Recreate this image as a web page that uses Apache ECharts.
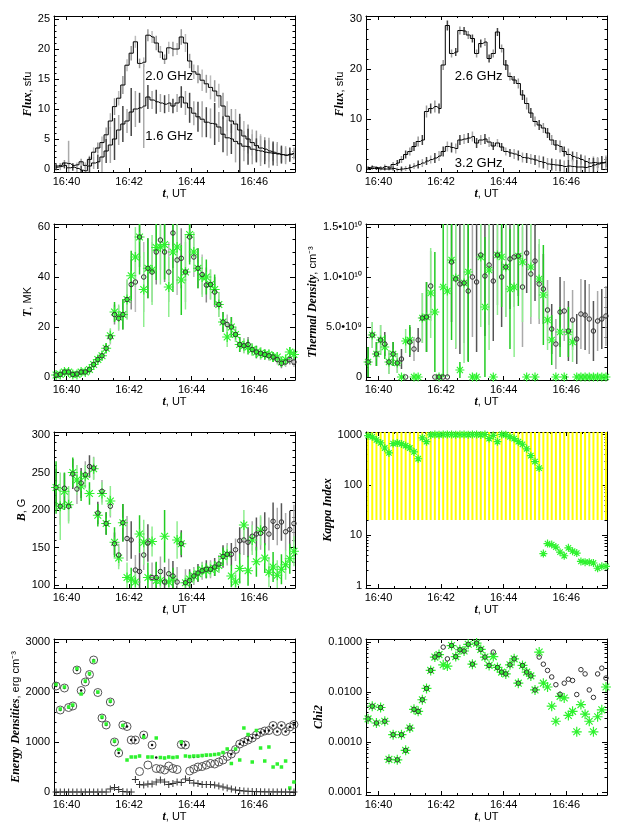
<!DOCTYPE html>
<html><head><meta charset="utf-8">
<script src="https://cdn.jsdelivr.net/npm/echarts@6/dist/echarts.min.js"></script>
<style>html,body{margin:0;padding:0;background:#fff}#c{width:623px;height:830px}</style>
</head><body><div id="c"></div>
<script>
// ---------------- sampling clock (minutes after 16:00) ----------------
const T_START = 39 + 40 / 60;   // 16:39:40
const T_STEP = 8 / 60;          // 8 s cadence
const N = 58;
const times = [];
for (let i = 0; i < N; i++) times.push(T_START + i * T_STEP);

const xTickMinutes = [40, 42, 44, 46];
const xMinorMinutes = [40.5, 41, 41.5, 42.5, 43, 43.5, 44.5, 45, 45.5, 46.5, 47];

// ---------------- panel 1: flux 2.0 / 1.6 GHz (sfu) ----------------
const flux20 = [0.5,0.6,1.0,0.9,0.6,0.7,1.2,0.6,1.6,2.8, 3.5,4.4,5.7,8.0,10.4,11.8,14.0,17.3,19.3,21.2, 17.6,17.8,22.3,22.0,21.0,19.5,18.3,20.2,20.0,20.0, 22.0,21.0,18.0,16.2,15.8,14.8,14.2,13.6,13.0,12.2, 10.5,8.8,8.0,7.5,6.5,5.5,5.0,4.4,3.9,3.5, 3.3,3.0,2.8,2.6,2.4,2.3,2.5,2.6];
const err20  = [0.4,0.4,0.5,0.4,0.4,0.4,0.5,0.5,0.6,0.8, 0.9,1.0,1.2,1.3,1.4,1.2,1.5,1.0,1.2,1.0, 0.8,0.8,1.0,1.0,1.2,1.0,0.8,1.0,1.2,1.0, 1.3,1.5,1.2,1.2,1.5,1.8,1.5,2.0,1.8,2.0, 2.2,2.5,2.0,2.5,2.2,2.5,2.4,2.2,2.5,2.3, 2.0,1.8,1.5,1.6,1.3,1.2,1.0,0.8];
const flux16 = [0.3,0.4,0.6,0.2,0.3,0.1,-0.2,-0.3,0.5,1.0, 1.2,2.0,3.0,4.0,5.0,6.5,7.5,8.0,9.5,10.0, 10.2,10.5,12.0,11.5,11.2,11.0,10.8,11.0,10.5,11.0, 12.0,11.0,10.2,9.3,8.7,8.3,7.8,7.6,7.5,7.0, 5.8,5.2,5.0,4.6,4.2,3.8,3.7,3.3,3.1,3.0, 2.8,2.7,2.6,2.5,2.4,2.3,2.4,2.6];
const err16  = [0.5,0.6,0.5,4.5,0.6,0.6,0.8,0.8,1.5,1.0, 1.2,2.5,2.0,3.0,3.5,2.5,3.0,2.0,4.0,3.0, 2.5,7.0,2.0,1.5,2.0,1.5,1.5,1.5,1.2,1.5, 1.8,2.0,2.5,2.0,2.5,3.0,2.5,2.5,3.5,2.5, 3.0,3.0,2.5,3.5,5.0,2.5,3.0,2.5,2.0,2.5, 2.0,2.5,2.0,2.0,1.5,1.5,1.2,1.0];

// ---------------- panel 2: flux 2.6 / 3.2 GHz (sfu) ----------------
const flux26 = [0.3,0.4,0.3,0.2,0.5,0.2,0.9,1.2,1.9,2.9, 3.5,4.5,5.5,5.8,11.5,12.1,12.5,12.1,20.8,28.7, 23.1,23.4,27.7,27.6,26.8,26.1,23.1,25.1,25.4,22.1, 23.1,27.4,24.1,20.8,18.5,17.8,17.1,14.8,13.1,11.2, 9.5,8.8,8.2,7.2,5.8,4.8,4.5,3.5,2.9,2.5, 2.2,1.9,1.5,1.2,1.3,1.2,1.3,1.4];
const err26  = [0.3,0.3,0.3,0.3,0.4,0.4,0.5,0.6,0.7,0.8, 0.8,0.9,1.0,1.0,1.2,1.0,1.2,1.0,1.0,1.0, 0.8,0.8,0.8,0.8,0.8,0.8,0.8,0.8,0.8,0.8, 0.8,0.8,0.8,1.0,0.8,0.8,1.0,1.0,1.2,1.0, 1.0,1.0,1.0,1.0,1.0,1.0,1.2,1.0,1.2,1.0, 1.2,1.0,1.2,1.0,1.2,1.0,1.2,1.0];
const flux32 = [0.1,0.1,0.1,0.0,0.0,0.0,0.1,-0.1,0.0,0.1, 0.3,0.6,0.9,1.2,1.6,1.9,2.2,2.6,3.5,4.5, 4.3,4.1,5.8,6.0,6.2,6.5,5.2,5.8,6.0,5.4, 4.6,5.2,4.4,3.5,3.2,3.0,2.7,2.3,2.2,2.0, 1.8,1.5,1.3,1.0,0.9,0.8,0.7,0.5,0.6,0.5, 0.4,0.4,0.3,0.5,0.8,1.0,1.2,1.3];
const err32  = [0.3,0.3,0.3,0.3,0.3,0.3,0.4,0.4,0.5,0.5, 0.6,0.6,0.8,0.8,0.8,0.8,1.0,1.0,1.0,1.0, 1.0,1.0,1.0,1.0,1.0,1.0,1.0,1.0,1.0,1.0, 0.8,0.8,0.8,0.8,0.8,1.0,1.0,1.0,1.0,1.0, 1.0,1.2,1.2,1.2,1.2,1.2,1.2,1.2,1.2,1.4, 1.4,1.4,1.4,1.4,1.4,1.4,1.4,1.4];

// ---------------- panel 3: temperature (MK) ----------------
const tempAst  = [0.8,1.0,2.0,2.0,1.0,1.0,2.0,2.0,3.0,5.0, 7.0,8.5,11.5,16.5,26.0,24.0,25.0,31.0,40.5,48.0, 56.0,35.0,43.5,42.8,51.8,52.0,53.0,36.0,50.0,52.0, 38.8,42.0,57.0,50.0,43.5,40.0,40.0,37.0,35.0,29.0, 22.0,16.0,20.0,17.0,13.0,12.5,12.0,11.0,10.0,9.5, 9.0,9.0,8.0,8.0,6.0,7.0,10.0,9.0];
const tempAstErr = [0.8,0.8,1,1,0.8,0.8,1,1,1.2,1.5, 1.5,2,2,3,4,5,6,8,10,12, 15,15,12,14,13,15,14,12,16,15, 14,15,12,8,8,8,7,6,6,5, 4,4,4,3,3,3,3,2.5,2.5,2.5, 2,2,2,2,2,2,2,2];
const tempCirc = [0.8,1.0,2.0,2.0,1.0,1.2,2.0,2.0,3.0,5.0, 7.0,8.5,11.5,16.0,25.0,23.5,25.0,31.0,37.0,38.0, 56.0,40.0,43.5,42.0,50.0,54.8,50.0,42.0,57.6,46.8, 47.5,42.0,56.0,48.0,43.5,41.0,36.8,37.0,34.0,29.0, 22.0,21.0,20.0,17.0,13.0,12.5,13.0,11.0,10.0,9.5, 9.0,8.5,8.0,7.0,5.5,6.0,7.0,6.0];
const tempCircErr = [0.8,0.8,1,1,0.8,0.8,1,1,1.2,1.5, 1.5,2,2,3,4,5,6,8,10,12, 12,14,12,12,13,12,12,12,14,14, 12,12,10,8,8,8,7,6,6,5, 4,4,4,3,3,3,3,2.5,2.5,2.5, 2,2,2,2,2,2,2,2];

// ---------------- panel 4: thermal density (1e9 cm^-3) ----------------
const densAst = [1.5,4.2,2.3,3.7,3.0,1.5,2.3,1.4,0,3.6, 3.7,0,0,5.9,6.0,8.4,6.5,0,9.0,8.6, 11.7,9.9,0.7,9.4,10.5,0,0,12.0,7.0,10.7, 0,12.2,12.0,11.0,8.8,9.0,12.1,11.5,0,11.0, 0,9.8,8.2,5.7,3.7,0,4.5,0,4.5,3.5, 0,0,0,0,0,0,0,0];
const densAstErr = [1.5,1.3,1.2,1.5,1.2,1.2,1.2,1.0,0,1.2, 1.5,0,0,2.5,3.5,4.5,6.0,0,9.0,8.6, 8.0,7.0,0.8,8.0,9.0,0,0,7.0,7.0,8.0, 0,6.0,5.0,5.0,6.0,7.0,5.0,6.0,0,5.0, 0,4.0,5.0,3.0,2.5,0,2.5,0,2.5,2.0, 0,0,0,0,0,0,0,0];
const densCirc = [1.5,4.2,2.3,3.7,3.3,1.5,2.3,1.4,1.8,0, 3.5,2.8,3.7,5.9,6.0,9.1,0,0,0,0, 11.5,9.8,9.3,9.4,8.6,10.0,9.5,12.2,10.1,11.2, 9.6,12.2,10.0,11.0,11.8,12.0,12.1,9.0,12.4,10.3, 11.6,9.3,8.8,6.7,4.8,3.3,6.5,6.6,4.6,5.7, 3.8,6.3,6.2,5.8,4.6,5.6,5.8,6.1];
const densCircErr = [1.5,1.3,1.2,1.5,1.2,1.2,1.2,1.0,1.0,0, 1.5,1.2,1.2,2.5,3.5,3.5,0,0,0,0, 6.0,7.0,7.0,6.0,7.0,6.0,7.0,5.0,6.0,6.0, 6.0,5.0,5.0,5.0,5.0,5.0,4.0,6.0,4.0,5.0, 4.0,4.0,3.5,3.0,2.5,2.5,3.5,3.0,3.0,3.0, 2.5,3.5,3.5,3.5,3.0,3.0,3.0,3.0];

// ---------------- panel 5: magnetic field (G) ----------------
const bCirc = [230,205,229,205,248,228,236,247,258,256, 196,225,182,205,155,140,183,162,160,120, 118,140,156,110,110,118,104,115,112,104, 155,103,106,112,116,119,121,121,124,128, 138,141,141,147,159,160,157,165,168,169, 175,168,185,178,184,171,174,182];
const bCircErr = [25,25,20,20,20,20,20,18,15,15, 15,15,15,15,15,15,25,30,25,20, 25,20,25,20,20,20,20,20,20,20, 18,18,15,12,12,12,12,12,12,12, 15,15,15,15,18,20,20,20,22,22, 22,22,25,25,25,25,25,25];
const bAst = [230,205,225,207,250,240,232,245,222,255, 193,222,182,212,157,136,183,110,108,104, 168,157,110,158,106,106,165,104,108,160, 155,103,108,112,115,120,119,121,122,126, 138,141,112,104,122,180,119,160,131,173, 136,117,124,113,121,127,135,145];
const bAstErr = [35,45,25,25,20,20,20,15,15,15, 15,15,15,20,20,15,25,20,15,15, 25,30,20,20,25,15,35,15,15,25, 15,10,10,10,10,10,10,10,10,10, 12,12,15,15,20,20,20,20,20,20, 20,20,20,20,20,20,20,20];

// ---------------- panel 6: kappa index ----------------
const kappaAst = [950,900,780,680,540,430,660,680,650,600, 540,450,330,860,720,980,1000,990,1000,1000, 1000,990,1000,1000,990,1000,1000,980,1000,830, 960,720,1000,990,900,830,720,640,520,380, 290,215,4.3,6.8,6.5,5.8,4.6,3.9,5.6,4.8, 4.4,3.0,2.9,2.9,2.8,2.2,2.4,2.4];
const kappaRangeLow = 20;     // lower end of the yellow kappa ranges
const kappaRangeHigh = 5000;  // upper end (beyond the frame)

// ---------------- panel 7: energy densities (erg cm^-3) ----------------
const energyCirc = [2120,1640,2080,1690,1720,2440,2030,2200,2350,2640, 1990,1480,1340,1800,1000,780,1340,1310,1040,1040, 410,1140,540,940,470,460,440,520,470,450, 950,940,420,460,500,510,540,570,560,600, 640,710,760,850,960,1000,1040,1080,1140,1190, 1220,1230,1330,1210,1330,1210,1300,1350];
const energyDot = [2120,1640,2080,1690,1720,2440,2030,2200,2350,2640, 1990,1480,1340,1800,1000,780,1340,1310,1040,1040, 720,1140,700,940,690,690,680,700,690,700, 950,940,700,700,710,720,730,740,750,760, 790,860,760,850,960,1000,1040,1080,1140,1190, 1220,1230,1330,1210,1330,1210,1300,1350];
const energyGreen = [2150,1660,2100,1700,1740,2470,1960,2220,2370,2620, 2000,1500,1360,1820,1020,850,1330,640,700,700, 720,1100,700,700,1080,690,680,700,690,700, 1000,720,710,720,720,730,740,740,750,760, 790,860,570,860,640,1280,1150,600,1230,880, 620,900,500,560,500,620,80,200];
const energyPlus = [0,0,0,0,0,0,0,0,0,0, 0,0,0,60,90,50,10,0,0,250, 150,140,160,160,200,240,200,150,170,200, 190,260,230,180,170,150,150,150,140,120, 100,80,60,40,30,20,15,10,8,5, 3,2,2,1,1,0,0,0];

// ---------------- panel 8: chi2 ----------------
const chiAst = [0.0029,0.0052,0.0024,0.0049,0.0026,0.00045,0.0014,0.00044,0.0014,0.00068, 0.0019,0.0045,0.0041,0.0070,0.0118,0.027,0.050,0.056,0.035,0.033, 0.085,0.051,0.070,0.066,0.090,0.036,0.095,0.071,0.050,0.034, 0.051,0.031,0.025,0.023,0.035,0.046,0.015,0.034,0.025,0.021, 0.011,0.063,0.015,0.0126,0.0052,0.0026,0.0082,0.0076,0.0034,0.0041, 0.0016,0.0056,0.0036,0.0026,0.0016,0.0032,0.0044,0.0126];
const chiCirc = [0.0029,0.0052,0.0024,0.0049,0.0026,0.00045,0.0014,0.00044,0.0014,0.00068, 0.0019,0.0045,0.0041,0.0070,0.0118,0.027,0.050,0.056,0.079,0.046, 0.085,0.051,0.070,0.066,0.090,0.036,0.095,0.071,0.050,0.034, 0.063,0.031,0.025,0.023,0.035,0.046,0.015,0.034,0.025,0.021, 0.011,0.050,0.036,0.027,0.020,0.014,0.0090,0.015,0.018,0.017, 0.0089,0.028,0.023,0.011,0.0078,0.023,0.030,0.019];

// ---------------- text annotations ----------------
const freqLabels = [
  {panel: 0, text: '2.0 GHz', t: 43.28, v: 15.5},
  {panel: 0, text: '1.6 GHz', t: 43.28, v: 5.4},
  {panel: 1, text: '2.6 GHz', t: 43.2, v: 18.6},
  {panel: 1, text: '3.2 GHz', t: 43.2, v: 1.2}
];

// ======================= layout & styling =======================
const SANS = 'Liberation Sans, Arial, Helvetica, sans-serif';
const SERIF = 'Liberation Serif, Times New Roman, serif';
const X_MIN = 39.6, X_MAX = 47.3;
const COL_LEFT = [54, 366], ROW_TOP = [16, 224, 432, 639], GW = 241, GH = 156;
const GREEN = '#2ef22e', GREEN_D = '#22cc22', GREEN_L = '#8fee8f';
const ASTER = 'path://M0,5L10,5M5,0L5,10M1.6,1.6L8.4,8.4M8.4,1.6L1.6,8.4';
const PLUS = 'path://M0,5L10,5M5,0L5,10';
const RICH = {
  i: {fontFamily: SERIF, fontStyle: 'italic', fontWeight: 'bold', fontSize: 12, color: '#000'},
  n: {fontFamily: SANS, fontSize: 11, color: '#000'}
};

function linMinor(lo, hi, step, majorStep) {
  const out = [];
  for (let v = lo; v <= hi + 1e-9; v += step) {
    const r = Math.round(v * 1000) / 1000;
    if (Math.abs(r / majorStep - Math.round(r / majorStep)) > 1e-6) out.push(r);
  }
  return out;
}
function logMinor(d0, d1) {
  const out = [];
  for (let d = d0; d < d1; d++) for (let m = 2; m <= 9; m++) out.push(+(m * Math.pow(10, d)).toPrecision(3));
  return out;
}
const SUP = {'0':'\u2070','1':'\u00B9','9':'\u2079'};

const panels = [
  {col:0,row:0, ymin:-0.5, ymax:25.5, major:[0,5,10,15,20,25], minor:linMinor(0,25,1,5), fmt:v=>String(v), name:'{i|Flux}{n|, sfu}', gap:18},
  {col:1,row:0, ymin:-0.6, ymax:30.6, major:[0,10,20,30], minor:linMinor(0,30,2,10), fmt:v=>String(v), name:'{i|Flux}{n|, sfu}', gap:20},
  {col:0,row:1, ymin:-1.2, ymax:61.2, major:[0,20,40,60], minor:linMinor(0,60,5,20), fmt:v=>String(v), name:'{i|T}{n|, MK}', gap:18},
  {col:1,row:1, ymin:-0.3, ymax:15.3, major:[0,5,10,15], minor:linMinor(0,15,1,5),
    fmt:v=> v===0 ? '0' : (v===5 ? '5.0\u202210'+SUP['9'] : (v/10).toFixed(1)+'\u202210'+SUP['1']+SUP['0']),
    name:'{i|Thermal Density}{n|, cm\u207B\u00B3}', gap:41},
  {col:0,row:2, ymin:96, ymax:304, major:[100,150,200,250,300], minor:linMinor(100,300,10,50), fmt:v=>String(v), name:'{i|B}{n|, G}', gap:22},
  {col:1,row:2, log:true, ymin:Math.pow(10,-0.05), ymax:Math.pow(10,3.05), major:[1,10,100,1000], minor:logMinor(0,3), fmt:v=>String(Math.round(v)), name:'{i|Kappa Index}', gap:31},
  {col:0,row:3, ymin:-60, ymax:3060, major:[0,1000,2000,3000], minor:linMinor(0,3000,200,1000), fmt:v=>String(v), name:'{i|Energy Densities}{n|, erg cm\u207B\u00B3}', gap:32},
  {col:1,row:3, log:true, ymin:Math.pow(10,-4.06), ymax:Math.pow(10,-0.94), major:[0.0001,0.001,0.01,0.1], minor:logMinor(-4,-1), fmt:v=>Number(v).toFixed(4), name:'{i|Chi2}', gap:39}
];

const grids = [], xAxes = [], yAxes = [], series = [];
const LS = {color: '#000', width: 1};

panels.forEach((p, g) => {
  grids.push({left: COL_LEFT[p.col], top: ROW_TOP[p.row], width: GW, height: GH, containLabel: false});
  const xb = {type:'value', gridIndex:g, min:X_MIN, max:X_MAX, splitLine:{show:false}, silent:true};
  xAxes.push(Object.assign({}, xb, {position:'bottom', axisLine:{show:true,onZero:false,lineStyle:LS},
    axisTick:{show:true, inside:true, length:4, customValues:xTickMinutes, lineStyle:LS},
    axisLabel:{show:true, customValues:xTickMinutes, formatter:v=>'16:'+Math.round(v), fontSize:11, fontFamily:SANS, color:'#000', margin:4},
    name:'{i|t}{n|, UT}', nameLocation:'middle', nameGap:15, nameTextStyle:{rich:RICH}}));
  xAxes.push(Object.assign({}, xb, {position:'top', axisLine:{show:true,onZero:false,lineStyle:LS},
    axisTick:{show:true, inside:true, length:4, customValues:xTickMinutes, lineStyle:LS}, axisLabel:{show:false}}));
  xAxes.push(Object.assign({}, xb, {position:'bottom', axisLine:{show:false,onZero:false},
    axisTick:{show:true, inside:true, length:2, customValues:xMinorMinutes, lineStyle:LS}, axisLabel:{show:false}}));
  xAxes.push(Object.assign({}, xb, {position:'top', axisLine:{show:false,onZero:false},
    axisTick:{show:true, inside:true, length:2, customValues:xMinorMinutes, lineStyle:LS}, axisLabel:{show:false}}));

  const yb = {type: p.log ? 'log' : 'value', gridIndex:g, min:p.ymin, max:p.ymax, splitLine:{show:false}, silent:true};
  if (p.log) yb.logBase = 10;
  yAxes.push(Object.assign({}, yb, {position:'left', axisLine:{show:true,onZero:false,lineStyle:LS},
    axisTick:{show:true, inside:true, length:5, customValues:p.major, lineStyle:LS},
    axisLabel:{show:true, customValues:p.major, formatter:p.fmt, fontSize:11, fontFamily:SANS, color:'#000', margin:4},
    name:p.name, nameLocation:'middle', nameGap:p.gap, nameTextStyle:{rich:RICH}}));
  yAxes.push(Object.assign({}, yb, {position:'right', axisLine:{show:true,onZero:false,lineStyle:LS},
    axisTick:{show:true, inside:true, length:5, customValues:p.major, lineStyle:LS}, axisLabel:{show:false}}));
  yAxes.push(Object.assign({}, yb, {position:'left', axisLine:{show:false,onZero:false},
    axisTick:{show:true, inside:true, length:2.5, customValues:p.minor, lineStyle:LS}, axisLabel:{show:false}}));
  yAxes.push(Object.assign({}, yb, {position:'right', axisLine:{show:false,onZero:false},
    axisTick:{show:true, inside:true, length:2.5, customValues:p.minor, lineStyle:LS}, axisLabel:{show:false}}));
});

function ax(g) { return {xAxisIndex: 4 * g, yAxisIndex: 4 * g}; }

// vertical range bars: lows/highs per sample, colours alternate by sample index
function rangeBars(g, lows, highs, colors, width, z) {
  const data = [];
  times.forEach((t, i) => { if (highs[i] > lows[i]) data.push([t, lows[i], highs[i], i]); });
  return Object.assign({type:'custom', silent:true, z:z || 2, data,
    renderItem(params, api) {
      const cs = params.coordSys;
      const p1 = api.coord([api.value(0), api.value(1)]);
      const p2 = api.coord([api.value(0), api.value(2)]);
      const top = cs.y, bot = cs.y + cs.height;
      const y1 = Math.max(top, Math.min(bot, p1[1]));
      const y2 = Math.max(top, Math.min(bot, p2[1]));
      if (Math.abs(y1 - y2) < 0.5) return null;
      const c = colors[api.value(3) % colors.length];
      return {type:'line', shape:{x1:p1[0], y1, x2:p1[0], y2}, style:{stroke:c, lineWidth:width}};
    }}, ax(g));
}
function errBars(g, vals, errs, colors, width, z) {
  return rangeBars(g, vals.map((v, i) => v - errs[i]), vals.map((v, i) => v + errs[i]), colors, width, z);
}
function marks(g, vals, symbol, size, fill, stroke, bw, z) {
  const data = times.map((t, i) => [t, vals[i]]);
  return Object.assign({type:'scatter', silent:true, z:z || 3, symbol, symbolSize:size, data,
    itemStyle:{color:fill, borderColor:stroke, borderWidth:bw, opacity:1}, emphasis:{disabled:true}}, ax(g));
}
function stepLine(g, vals) {
  return Object.assign({type:'line', step:'middle', silent:true, z:4, showSymbol:false, symbol:'none',
    data: times.map((t, i) => [t, vals[i]]), lineStyle:{color:'#000', width:1}}, ax(g));
}

const NONE = 'rgba(0,0,0,0)';
const GRAYS = ['#555', '#aaa'];
const GREENS = [GREEN_D, GREEN_L];

// panel 1
series.push(errBars(0, flux20, err20, ['#999', '#bbb'], 1.5));
series.push(errBars(0, flux16, err16, ['#444', '#aaa'], 1.5));
series.push(stepLine(0, flux20));
series.push(stepLine(0, flux16));
// panel 2
series.push(errBars(1, flux26, err26, ['#999', '#444'], 1.5));
series.push(errBars(1, flux32, err32, ['#444', '#aaa'], 1.5));
series.push(stepLine(1, flux26));
series.push(stepLine(1, flux32));
// panel 3
series.push(errBars(2, tempCirc, tempCircErr, ['#888', '#bbb'], 1.5));
series.push(errBars(2, tempAst, tempAstErr, GREENS, 1.5));
series.push(marks(2, tempAst, ASTER, 10, NONE, GREEN, 1.2));
series.push(marks(2, tempCirc, 'circle', 4.5, NONE, '#333', 1, 5));
// panel 4
series.push(errBars(3, densCirc, densCircErr, GRAYS, 1.5));
series.push(errBars(3, densAst, densAstErr, GREENS, 1.5));
series.push(marks(3, densAst, ASTER, 9, NONE, GREEN, 1.2));
series.push(marks(3, densCirc, 'circle', 4.5, NONE, '#333', 1, 5));
// panel 5
series.push(errBars(4, bCirc, bCircErr, GRAYS, 1.5));
series.push(errBars(4, bAst, bAstErr, GREENS, 1.5));
series.push(marks(4, bAst, ASTER, 10, NONE, GREEN, 1.2));
series.push(marks(4, bCirc, 'circle', 4.5, NONE, '#333', 1, 5));
// panel 6
series.push(rangeBars(5, times.map(() => kappaRangeLow), times.map(() => kappaRangeHigh), ['#ffff00'], 2));
series.push(marks(5, kappaAst, ASTER, 8, NONE, GREEN, 1.2));
// panel 7
series.push(marks(6, energyCirc, 'circle', 8, NONE, '#555', 1, 3));
series.push(marks(6, energyDot, 'circle', 2.5, '#111', '#111', 0, 4));
series.push(marks(6, energyGreen, 'rect', 3.5, GREEN, GREEN, 0, 5));
series.push(marks(6, energyPlus, PLUS, 7, NONE, '#333', 1, 6));
// panel 8
series.push(marks(7, chiAst, ASTER, 10, NONE, GREEN, 1.2));
series.push(marks(7, chiCirc, 'circle', 4.5, NONE, '#333', 1, 5));

// frequency annotations
freqLabels.forEach(l => {
  series.push(Object.assign({type:'scatter', silent:true, z:7, symbolSize:1, data:[[l.t, l.v]],
    itemStyle:{color:NONE},
    label:{show:true, position:'inside', formatter:l.text, fontSize:13, fontFamily:SANS, color:'#000', opacity:1}}, ax(l.panel)));
});

const chart = echarts.init(document.getElementById('c'), null, {renderer:'canvas'});
chart.setOption({animation:false, backgroundColor:'#fff', grid:grids, xAxis:xAxes, yAxis:yAxes, series});
</script>
</body></html>
